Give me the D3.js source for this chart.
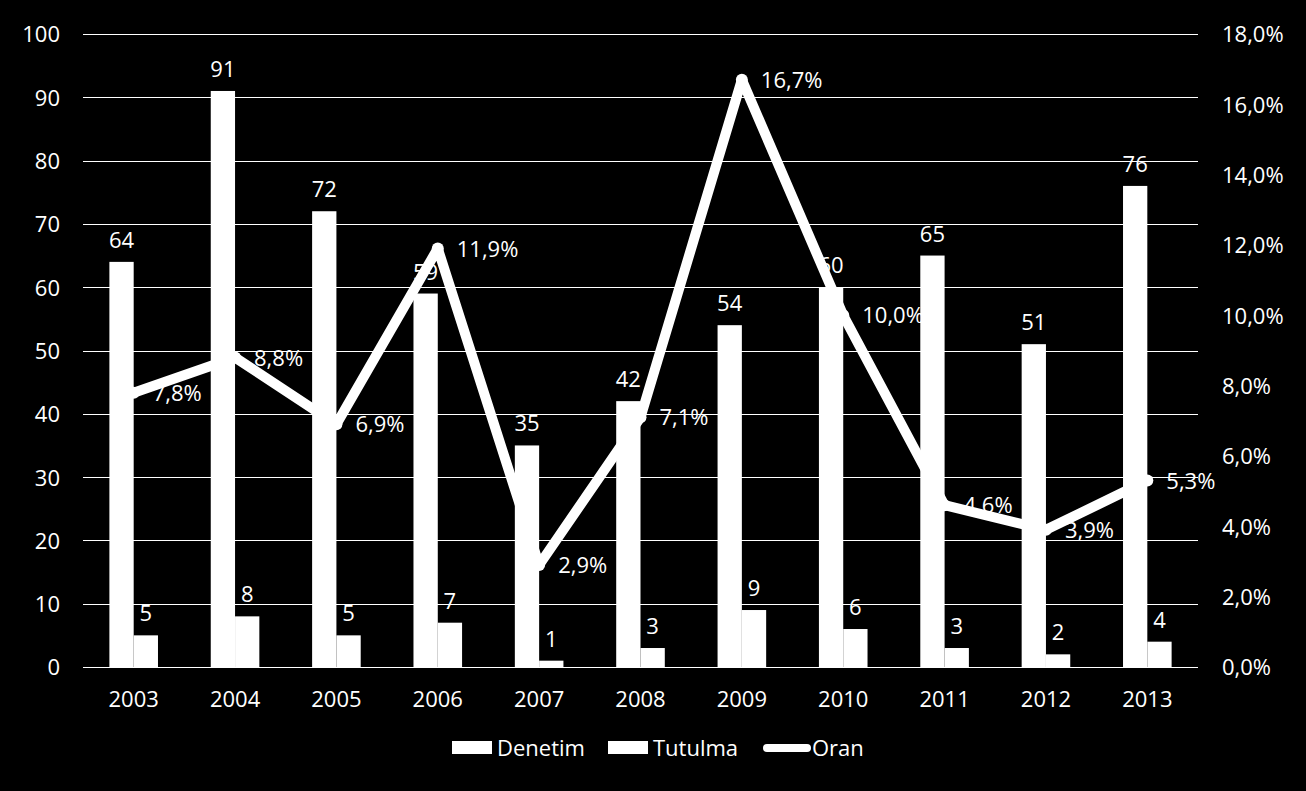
<!DOCTYPE html>
<html><head><meta charset="utf-8">
<script src="https://cdn.jsdelivr.net/npm/d3@7"></script>
<style>
html,body{margin:0;padding:0;background:#000;}
svg{display:block;}
text{font-family:"Open Sans",sans-serif;fill:#fff;}
</style></head>
<body>
<svg id="c" width="1306" height="791"></svg>
<script>
const years = ["2003","2004","2005","2006","2007","2008","2009","2010","2011","2012","2013"];
const denetim = [64,91,72,59,35,42,54,60,65,51,76];
const tutulma = [5,8,5,7,1,3,9,6,3,2,4];
const oran = [7.8,8.8,6.9,11.9,2.9,7.1,16.7,10.0,4.6,3.9,5.3];
const leftTicks = [0,10,20,30,40,50,60,70,80,90,100];
const rightTicks = [0,2,4,6,8,10,12,14,16,18];
const seriesNames = ["Denetim","Tutulma","Oran"];

const svg = d3.select("#c");
svg.append("rect").attr("width",1306).attr("height",791).attr("fill","#000");
const L=83, R=1198, T=34, B=667;
const fs = 22;

const x0 = d3.scaleBand().domain(years).range([L,R]).paddingInner(0).paddingOuter(0);
const x1 = d3.scaleBand().domain(["Denetim","Tutulma"]).range([0,x0.bandwidth()]).paddingInner(0).paddingOuter(1.086);
const yL = d3.scaleLinear().domain([0,100]).range([B,T]);
const yR = d3.scaleLinear().domain([0,18]).range([B,T]);

const fmtPct = v => d3.format(".1f")(v).replace(".",",") + "%";

// gridlines
svg.append("g").selectAll("line").data(leftTicks).join("line")
  .attr("x1",L).attr("x2",R).attr("y1",d=>Math.round(yL(d))+0.5).attr("y2",d=>Math.round(yL(d))+0.5)
  .attr("stroke","#fff").attr("stroke-width",1);

// left axis
const ga = svg.append("g").attr("transform",`translate(${L-23},0)`)
  .call(d3.axisLeft(yL).tickValues(leftTicks).tickSize(0).tickPadding(0));
ga.select(".domain").remove();
ga.selectAll("text").attr("font-size",fs).attr("fill","#fff").attr("font-family","Open Sans").attr("dy","0.36em");

// right axis
const gr = svg.append("g").attr("transform",`translate(${R+24},0)`)
  .call(d3.axisRight(yR).tickValues(rightTicks).tickSize(0).tickPadding(0).tickFormat(fmtPct));
gr.select(".domain").remove();
gr.selectAll("text").attr("font-size",fs).attr("fill","#fff").attr("font-family","Open Sans").attr("dy","0.36em");

// x axis labels
const gx = svg.append("g").attr("transform",`translate(0,${B})`)
  .call(d3.axisBottom(x0).tickSize(0).tickPadding(0));
gx.select(".domain").remove();
gx.selectAll("text").attr("font-size",fs).attr("fill","#fff").attr("font-family","Open Sans").attr("dy","1.82em");

// bars
const rows = years.map((y,i)=>({year:y, Denetim:denetim[i], Tutulma:tutulma[i], Oran:oran[i]}));
const groups = svg.append("g").selectAll("g").data(rows).join("g")
  .attr("transform",d=>`translate(${x0(d.year)},0)`);
groups.selectAll("rect").data(d=>["Denetim","Tutulma"].map(k=>({k, v:d[k]}))).join("rect")
  .attr("x",d=>x1(d.k)).attr("width",x1.bandwidth())
  .attr("y",d=>yL(d.v)).attr("height",d=>B-yL(d.v)).attr("fill","#fff");

// bar labels
groups.selectAll("text").data(d=>["Denetim","Tutulma"].map(k=>({k, v:d[k]}))).join("text")
  .attr("x",d=>x1(d.k)+x1.bandwidth()/2).attr("y",d=>yL(d.v)-14)
  .attr("text-anchor","middle").attr("font-size",fs).text(d=>d.v);

// line
const cx = d => x0(d.year)+x0.bandwidth()/2;
const line = d3.line().x(cx).y(d=>yR(d.Oran));
svg.append("path").datum(rows).attr("d",line).attr("fill","none")
  .attr("stroke","#fff").attr("stroke-width",10).attr("stroke-linejoin","round").attr("stroke-linecap","round");
svg.append("g").selectAll("circle").data(rows).join("circle")
  .attr("cx",cx).attr("cy",d=>yR(d.Oran)).attr("r",6).attr("fill","#fff");

// oran labels
svg.append("g").selectAll("text").data(rows).join("text")
  .attr("x",d=>cx(d)+19).attr("y",d=>yR(d.Oran)+8)
  .attr("font-size",fs).text(d=>fmtPct(d.Oran));

// legend
const lg = svg.append("g");
const legendItems = [
  {name:seriesNames[0], x:452, type:"rect"},
  {name:seriesNames[1], x:608, type:"rect"},
  {name:seriesNames[2], x:763, type:"line"}
];
legendItems.forEach(it=>{
  if(it.type==="rect"){
    lg.append("rect").attr("x",it.x).attr("y",741).attr("width",40).attr("height",13).attr("fill","#fff");
  } else {
    lg.append("line").attr("x1",it.x+4).attr("x2",it.x+44).attr("y1",748).attr("y2",748)
      .attr("stroke","#fff").attr("stroke-width",8).attr("stroke-linecap","round");
  }
  lg.append("text").attr("x",it.x+(it.type==="rect"?45:49)).attr("y",756).attr("font-size",fs).text(it.name);
});
</script>
</body></html>
